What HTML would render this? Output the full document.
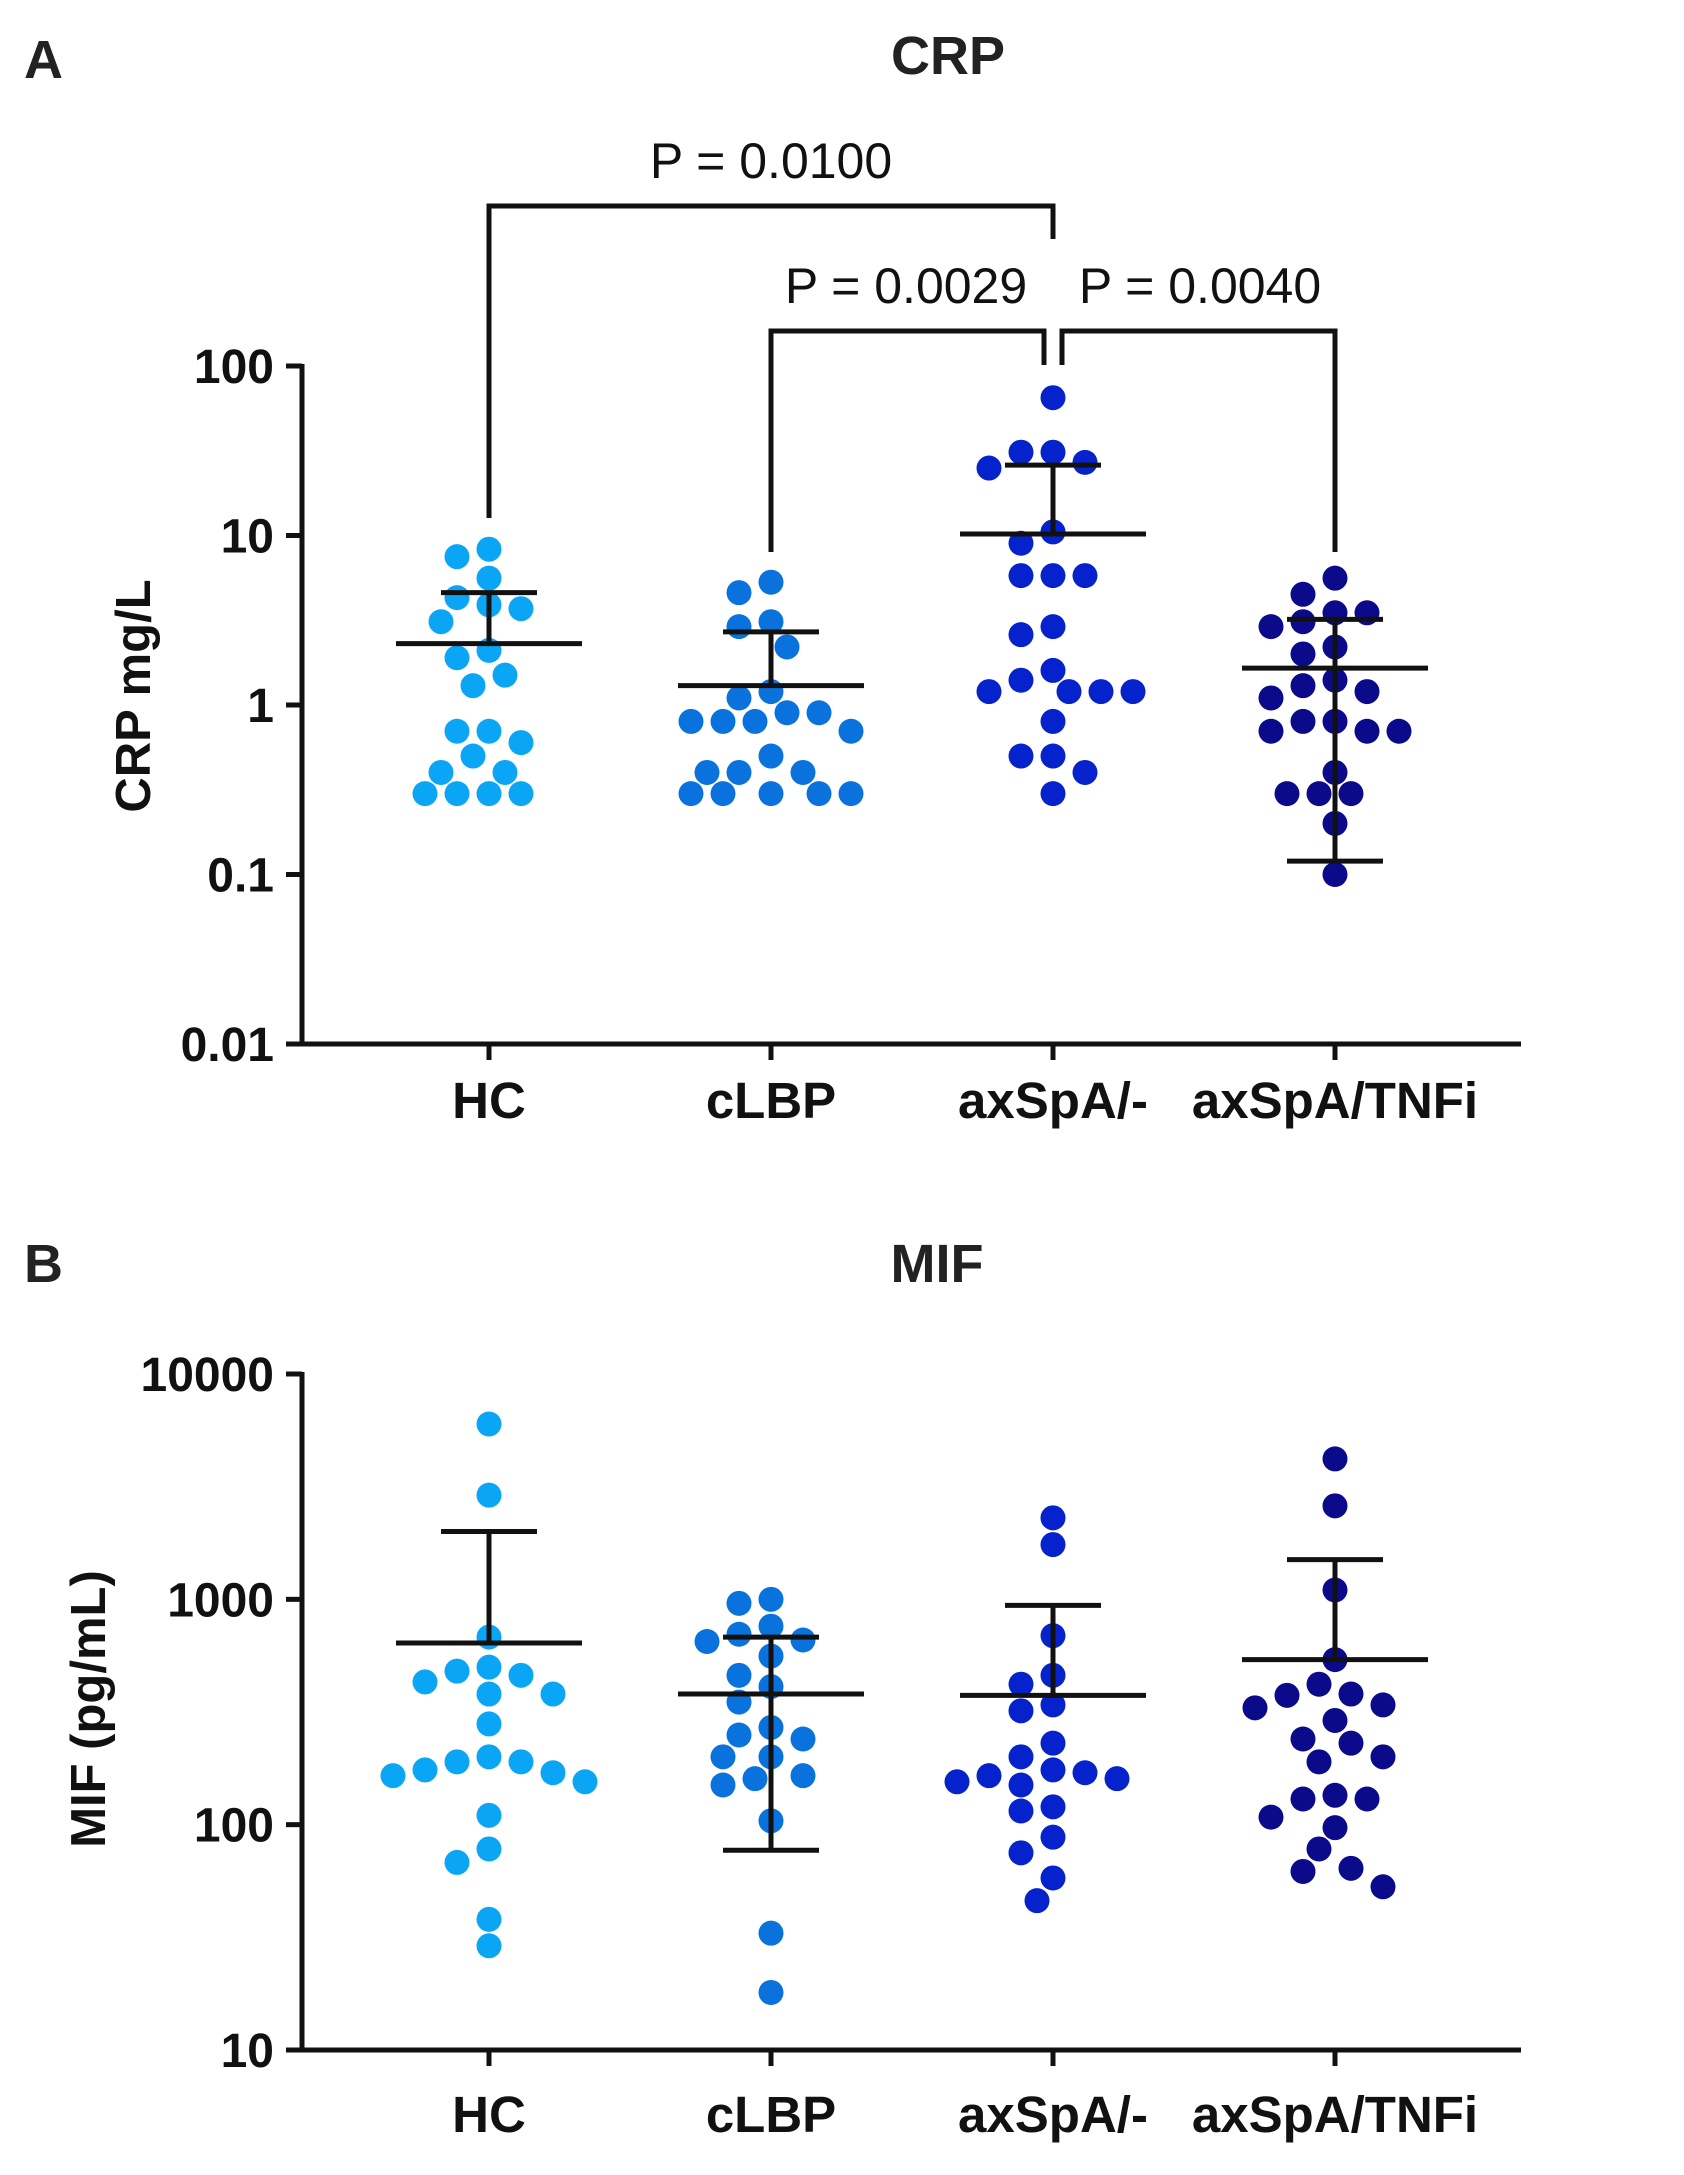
<!DOCTYPE html>
<html><head><meta charset="utf-8"><style>
html,body{margin:0;padding:0;background:#fff}
svg{display:block;font-family:"Liberation Sans",Arial,sans-serif}
</style></head><body>
<svg id="chart" width="1684" height="2175" viewBox="0 0 1684 2175" xmlns="http://www.w3.org/2000/svg">
<text x="24" y="78" font-size="54" font-weight="bold" fill="#222">A</text>
<text x="948" y="74" font-size="54" font-weight="bold" fill="#222" text-anchor="middle">CRP</text>
<text x="24" y="1282" font-size="54" font-weight="bold" fill="#222">B</text>
<text x="937" y="1282" font-size="54" font-weight="bold" fill="#222" text-anchor="middle">MIF</text>
<text transform="translate(150,696) rotate(-90)" font-size="49" font-weight="bold" fill="#111" text-anchor="middle">CRP mg/L</text>
<text transform="translate(105,1709) rotate(-90)" font-size="49" font-weight="bold" fill="#111" text-anchor="middle">MIF (pg/mL)</text>
<g id="crp"></g>
<g id="mif"></g>
</svg>
<script>
const categories = ["HC","cLBP","axSpA/-","axSpA/TNFi"];
const colors = ["#0aa6f5","#0a72dc","#0522cc","#0a0a8a"];
const crpTicks = [100,10,1,0.1,0.01];
const crpTickLabels = ["100","10","1","0.1","0.01"];
const crpHC = [8.3,7.5,5.6,3.7,3.9,4.3,3.1,1.9,2.1,1.3,1.5,0.6,0.7,0.7,0.5,0.4,0.4,0.3,0.3,0.3,0.3];
const crpCLBP = [5.3,4.6,3.1,2.9,2.2,1.1,1.2,0.7,0.8,0.9,0.8,0.9,0.8,0.5,0.4,0.4,0.4,0.3,0.3,0.3,0.3,0.3];
const crpAx = [65,31,31,25,27,10.5,9,5.8,5.8,5.8,2.9,2.6,1.6,1.4,1.2,1.2,1.2,1.2,0.8,0.5,0.5,0.4,0.3];
const crpTNFi = [5.6,4.5,3.5,3.5,3.1,2.9,2.2,2.0,1.4,1.3,1.1,1.2,0.8,0.8,0.7,0.7,0.7,0.4,0.3,0.3,0.3,0.2,0.1];
const crpMean = [2.3,1.3,10.2,1.65];
const crpUpper = [4.6,2.7,26,3.2];
const crpLower = [null,null,null,0.12];
const mifTicks = [10000,1000,100,10];
const mifTickLabels = ["10000","1000","100","10"];
const mifHC = [6000,2900,680,500,480,460,430,380,380,280,200,190,190,175,170,165,155,110,78,68,38,29];
const mifCLBP = [1000,960,760,700,660,650,560,460,410,350,270,250,240,200,200,165,160,150,104,33,18];
const mifAx = [2300,1750,690,460,420,340,320,230,200,175,170,165,160,155,150,120,115,88,75,58,46];
const mifTNFi = [4200,2600,1100,540,420,380,375,340,330,290,240,230,200,190,135,130,130,108,97,78,64,62,53];
const mifMean = [640,380,375,540];
const mifUpper = [2000,680,940,1500];
const mifLower = [null,77,null,null];
const pLabels = ["P = 0.0100","P = 0.0029","P = 0.0040"];

const NS="http://www.w3.org/2000/svg";
function mk(parent,tag,attrs){const e=document.createElementNS(NS,tag);for(const k in attrs)e.setAttribute(k,attrs[k]);parent.appendChild(e);return e;}
const catX = i => 489 + i*282;
const R=12.5;
const SW=5;

function panel(g, cfg){
  const yScale = v => cfg.yTop + (Math.log10(cfg.maxV)-Math.log10(v))/(Math.log10(cfg.maxV)-Math.log10(cfg.minV))*(cfg.yBot-cfg.yTop);
  const axX=302, axEnd=1521;
  const ya=mk(g,'line',{x1:axX,y1:cfg.yTop-2,x2:axX,y2:cfg.yBot+2,stroke:'#111','stroke-width':SW});
  
  
  const xa=mk(g,'line',{x1:axX-16,y1:cfg.yBot,x2:axEnd,y2:cfg.yBot,stroke:'#111','stroke-width':SW});
  
  
  cfg.ticks.forEach((t,i)=>{
    const y=yScale(t);
    const tl=mk(g,'line',{x1:axX-16,y1:y,x2:axX,y2:y,stroke:'#111','stroke-width':SW});
    
    
    const tx=mk(g,'text',{x:axX-28,y:y+17,'font-size':48,'font-weight':'bold','text-anchor':'end',fill:'#111'});
    tx.textContent=cfg.tickLabels[i];
    
    
  });
  categories.forEach((c,i)=>{
    const x=catX(i);
    const tk=mk(g,'line',{x1:x,y1:cfg.yBot,x2:x,y2:cfg.yBot+16,stroke:'#111','stroke-width':SW});
    
    
    const tx=mk(g,'text',{x:x,y:cfg.catY,'font-size':51,'font-weight':'bold','text-anchor':'middle',fill:'#111'});
    tx.textContent=c;
    
    
  });
  cfg.series.forEach((vals,i)=>{
    const cx=catX(i);
    const placed=[];
    const sorted=vals.slice().sort((a,b)=>b-a);
    sorted.forEach(v=>{
      const y=yScale(v);
      let x=cx;
      for(let k=0;k<30;k++){
        const off=(k===0?0:(k%2?-1:1)*Math.ceil(k/2))*16;
        const tx=cx+off;
        if(placed.every(p=>Math.hypot(p[0]-tx,p[1]-y)>=2*R+1)){x=tx;break;}
      }
      placed.push([x,y]);
      const d=mk(g,'circle',{cx:x,cy:y,r:R,fill:colors[i]});
      
      
    });
    const ym=yScale(cfg.mean[i]);
    const ml=mk(g,'line',{x1:cx-93,y1:ym,x2:cx+93,y2:ym,stroke:'#111','stroke-width':SW});
    
    
    const yu=yScale(cfg.upper[i]);
    const yl=cfg.lower[i]!=null?yScale(cfg.lower[i]):ym;
    const el=mk(g,'path',{d:`M${cx},${yu}V${yl}M${cx-48},${yu}H${cx+48}`+(cfg.lower[i]!=null?`M${cx-48},${yl}H${cx+48}`:''),stroke:'#111','stroke-width':SW,fill:'none'});
    
    
  });
  return yScale;
}

const crpG=document.getElementById('crp');
panel(crpG,{yTop:366,yBot:1044,maxV:100,minV:0.01,ticks:crpTicks,tickLabels:crpTickLabels,catY:1118,
  series:[crpHC,crpCLBP,crpAx,crpTNFi],mean:crpMean,upper:crpUpper,lower:crpLower});
const mifG=document.getElementById('mif');
panel(mifG,{yTop:1374,yBot:2050,maxV:10000,minV:10,ticks:mifTicks,tickLabels:mifTickLabels,catY:2132,
  series:[mifHC,mifCLBP,mifAx,mifTNFi],mean:mifMean,upper:mifUpper,lower:mifLower});

const br=[[0,2,206,518,239,771,178],[1,2,331,552,365,906,303],[2,3,331,365,552,1200,303]];
br.forEach((b,k)=>{
  let x1=catX(b[0]), x2=catX(b[1]);
  if(k===1) x2-=9;
  if(k===2) x1+=9;
  const p=mk(crpG,'path',{d:`M${x1},${b[3]}V${b[2]}H${x2}V${b[4]}`,stroke:'#111','stroke-width':SW,fill:'none'});
  
  
  const t=mk(crpG,'text',{x:b[5],y:b[6],'font-size':50,'text-anchor':'middle',fill:'#111'});
  t.textContent=pLabels[k];
  
  
});
</script>
</body></html>
